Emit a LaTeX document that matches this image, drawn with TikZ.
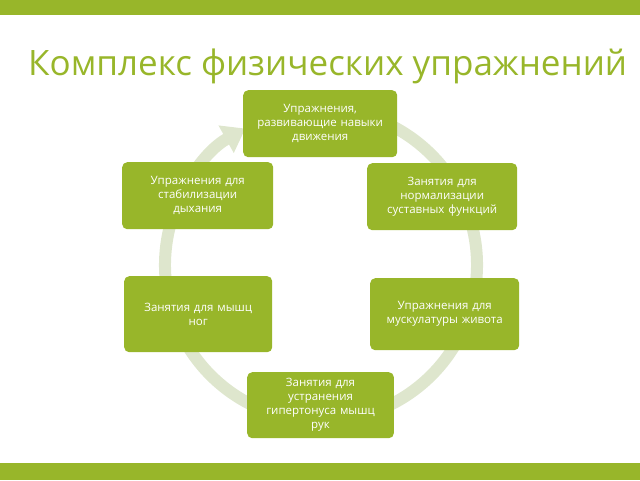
\documentclass[tikz,border=0pt]{standalone}
\usepackage{fontspec}
\setmainfont{Open Sans}
\usetikzlibrary{arrows.meta}
\definecolor{leaf}{RGB}{152,182,42}
\definecolor{ring}{RGB}{222,230,205}
\begin{document}
\begin{tikzpicture}[x=1pt,y=-1pt,
every node/.style={font=\fontsize{11.5}{14}\selectfont},
step box/.style={fill=leaf, text=white, rounded corners=5pt, align=center, anchor=north west},
]
\useasboundingbox (0,0) rectangle (640,480);
\fill[leaf] (0,0) rectangle (640,15);
\fill[leaf] (0,463) rectangle (640,480);

% Title
\node[anchor=west, text=leaf, inner sep=0pt, font=\fontsize{35}{42}\selectfont] (title) at (28,66) {Комплекс физических упражнений};

% Ring with arrow
\coordinate (hub) at (321,265);
\draw[ring, line width=12pt, -{Triangle[length=22pt,width=30pt]}]
  (hub) ++(-80:156) arc[start angle=-80, end angle=241, radius=156];

% Boxes
\node[step box, minimum width=154pt, minimum height=67pt, text width=146pt] (b1) at (243,90) {Упражнения,\\развивающие навыки\\движения};
\node[step box, minimum width=150pt, minimum height=67pt, text width=142pt] (b2) at (367,163) {Занятия для\\нормализации\\суставных функций};
\node[step box, minimum width=149pt, minimum height=72pt, text width=141pt] (b3) at (370,278) {Упражнения для\\мускулатуры живота};
\node[step box, minimum width=146pt, minimum height=66pt, text width=140pt] (b4) at (247,372) {Занятия для\\устранения\\гипертонуса мышц\\рук};
\node[step box, minimum width=148pt, minimum height=76pt, text width=140pt] (b5) at (124,276) {Занятия для мышц\\ног};
\node[step box, minimum width=151pt, minimum height=67pt, text width=143pt] (b6) at (122,162) {Упражнения для\\стабилизации\\дыхания};
\end{tikzpicture}
\end{document}
